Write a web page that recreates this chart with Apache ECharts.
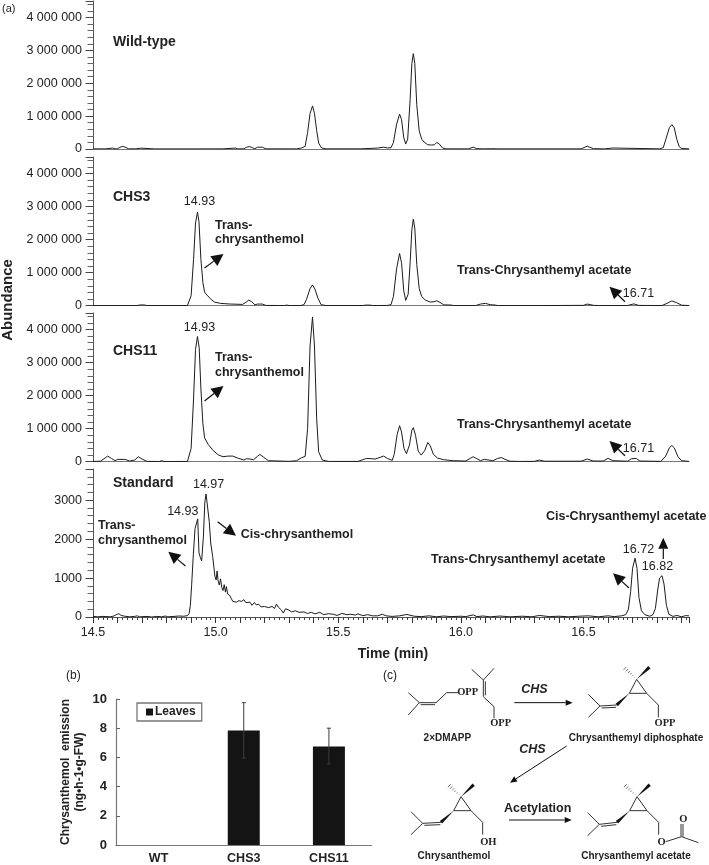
<!DOCTYPE html>
<html><head><meta charset="utf-8">
<style>html,body{margin:0;padding:0;background:#fff}#c{width:709px;height:865px}</style>
<script src="https://cdn.jsdelivr.net/npm/echarts@6/dist/echarts.min.js"></script>
</head><body><div id="c"></div>
<script>
const wildType = [[14.5,4000],[14.55,4000],[14.555,28000],[14.58,28000],[14.59,5000],[14.6,6000],[14.61,50000],[14.62,80000],[14.63,60000],[14.645,6000],[14.675,5000],[14.68,26000],[14.695,26000],[14.7,4000],[14.75,3000],[14.9,3000],[15.03,4000],[15.035,28000],[15.08,28000],[15.09,4000],[15.115,5000],[15.125,50000],[15.137,75000],[15.15,40000],[15.16,8000],[15.17,55000],[15.19,55000],[15.205,5000],[15.33,4000],[15.35,30000],[15.365,80000],[15.375,500000],[15.385,1080000],[15.395,1310000],[15.403,1080000],[15.412,560000],[15.42,180000],[15.432,30000],[15.45,5000],[15.59,5000],[15.595,25000],[15.66,28000],[15.685,55000],[15.7,30000],[15.715,40000],[15.725,200000],[15.738,760000],[15.75,1060000],[15.758,900000],[15.767,350000],[15.775,150000],[15.783,300000],[15.793,1500000],[15.8,2600000],[15.806,2900000],[15.812,2600000],[15.82,1350000],[15.83,550000],[15.84,300000],[15.85,210000],[15.865,130000],[15.88,120000],[15.892,130000],[15.902,200000],[15.912,150000],[15.925,30000],[15.94,5000],[16.03,4000],[16.05,55000],[16.065,10000],[16.09,4000],[16.095,28000],[16.12,8000],[16.15,5000],[16.157,30000],[16.165,4000],[16.49,4000],[16.515,85000],[16.54,10000],[16.585,4000],[16.59,30000],[16.62,30000],[16.625,4000],[16.81,4000],[16.825,40000],[16.835,280000],[16.85,650000],[16.86,740000],[16.87,640000],[16.88,300000],[16.89,70000],[16.9,15000],[16.93,5000]];
const chs3 = [[14.5,4000],[14.68,4000],[14.69,22000],[14.71,22000],[14.72,4000],[14.885,5000],[14.893,30000],[14.9,300000],[14.91,1400000],[14.918,2500000],[14.926,2830000],[14.932,2550000],[14.94,1400000],[14.948,700000],[14.955,410000],[14.965,320000],[14.98,200000],[14.995,110000],[15.02,70000],[15.06,50000],[15.11,40000],[15.125,110000],[15.135,170000],[15.147,120000],[15.16,25000],[15.17,50000],[15.19,50000],[15.205,8000],[15.28,4000],[15.29,18000],[15.3,5000],[15.345,5000],[15.36,30000],[15.37,180000],[15.385,520000],[15.395,630000],[15.405,500000],[15.417,230000],[15.43,30000],[15.45,5000],[15.6,4000],[15.61,18000],[15.63,18000],[15.64,4000],[15.7,8000],[15.715,30000],[15.725,280000],[15.738,1130000],[15.75,1580000],[15.758,1300000],[15.767,450000],[15.775,160000],[15.785,350000],[15.793,1300000],[15.8,2300000],[15.806,2620000],[15.812,2350000],[15.82,1250000],[15.83,520000],[15.84,280000],[15.855,170000],[15.875,110000],[15.89,120000],[15.902,150000],[15.915,100000],[15.93,25000],[15.96,20000],[15.97,4000],[16.06,4000],[16.08,50000],[16.1,70000],[16.12,30000],[16.14,20000],[16.15,4000],[16.33,4000],[16.5,10000],[16.515,50000],[16.54,12000],[16.56,4000],[16.68,6000],[16.705,55000],[16.725,8000],[16.82,5000],[16.84,70000],[16.86,145000],[16.88,90000],[16.9,15000],[16.93,5000]];
const chs11 = [[14.5,8000],[14.53,15000],[14.545,90000],[14.56,170000],[14.575,100000],[14.59,30000],[14.6,70000],[14.63,70000],[14.65,20000],[14.67,50000],[14.685,150000],[14.7,80000],[14.72,10000],[14.77,6000],[14.78,30000],[14.79,6000],[14.885,8000],[14.893,40000],[14.9,400000],[14.91,1900000],[14.918,3400000],[14.926,3790000],[14.933,3450000],[14.94,2200000],[14.948,1150000],[14.955,720000],[14.97,520000],[14.99,340000],[15.01,210000],[15.03,150000],[15.05,170000],[15.07,170000],[15.09,110000],[15.115,50000],[15.125,90000],[15.14,80000],[15.155,60000],[15.17,160000],[15.18,220000],[15.195,140000],[15.215,30000],[15.3,10000],[15.33,30000],[15.35,120000],[15.365,160000],[15.375,1000000],[15.385,3500000],[15.395,4380000],[15.403,3500000],[15.412,1300000],[15.42,300000],[15.435,50000],[15.46,8000],[15.58,8000],[15.6,60000],[15.615,100000],[15.635,90000],[15.65,80000],[15.67,130000],[15.685,170000],[15.7,100000],[15.72,40000],[15.728,220000],[15.74,820000],[15.75,1090000],[15.758,900000],[15.768,400000],[15.778,240000],[15.79,500000],[15.8,950000],[15.806,1030000],[15.815,800000],[15.826,320000],[15.838,200000],[15.852,330000],[15.865,580000],[15.875,480000],[15.888,220000],[15.905,110000],[15.93,60000],[15.97,30000],[16.02,20000],[16.04,110000],[16.05,150000],[16.065,90000],[16.08,30000],[16.095,70000],[16.115,50000],[16.13,30000],[16.15,100000],[16.165,125000],[16.18,70000],[16.2,15000],[16.235,8000],[16.24,30000],[16.25,8000],[16.3,10000],[16.32,50000],[16.34,15000],[16.49,15000],[16.515,80000],[16.54,20000],[16.58,20000],[16.6,100000],[16.62,30000],[16.68,15000],[16.695,90000],[16.715,100000],[16.73,20000],[16.815,10000],[16.835,170000],[16.85,420000],[16.86,490000],[16.87,420000],[16.885,150000],[16.9,30000],[16.93,8000]];
const standard = [[14.5,15],[14.52,5],[14.54,15],[14.57,5],[14.585,25],[14.595,60],[14.605,85],[14.615,40],[14.63,20],[14.65,5],[14.67,15],[14.68,30],[14.69,5],[14.72,15],[14.74,0],[14.76,15],[14.78,5],[14.795,25],[14.805,5],[14.83,15],[14.85,25],[14.87,20],[14.885,35],[14.892,90],[14.897,300],[14.902,800],[14.909,1600],[14.916,2270],[14.921,2310],[14.927,2520],[14.932,1650],[14.938,1520],[14.943,1440],[14.95,2050],[14.956,2950],[14.961,3160],[14.968,3130],[14.974,2450],[14.98,1900],[14.988,1550],[14.997,1050],[15.002,950],[15.006,1180],[15.01,930],[15.015,820],[15.02,980],[15.025,760],[15.03,680],[15.035,830],[15.04,640],[15.044,780],[15.049,590],[15.054,610],[15.058,550],[15.064,470],[15.07,400],[15.078,430],[15.085,380],[15.095,420],[15.105,400],[15.115,445],[15.123,370],[15.13,330],[15.14,380],[15.148,300],[15.158,370],[15.166,310],[15.175,330],[15.185,260],[15.2,270],[15.215,240],[15.23,270],[15.24,220],[15.248,330],[15.256,250],[15.268,180],[15.276,100],[15.285,210],[15.295,190],[15.31,130],[15.325,160],[15.34,120],[15.36,130],[15.375,90],[15.39,120],[15.405,80],[15.425,120],[15.44,60],[15.46,85],[15.48,70],[15.495,40],[15.515,90],[15.535,60],[15.55,70],[15.57,50],[15.58,80],[15.6,35],[15.62,60],[15.64,30],[15.66,30],[15.68,70],[15.695,30],[15.72,15],[15.75,30],[15.78,65],[15.81,20],[15.84,10],[15.87,30],[15.9,5],[15.93,25],[15.96,10],[16.0,20],[16.02,10],[16.05,55],[16.065,10],[16.09,25],[16.12,5],[16.16,25],[16.2,5],[16.25,20],[16.29,5],[16.32,40],[16.36,10],[16.4,20],[16.44,5],[16.48,20],[16.52,30],[16.56,5],[16.6,30],[16.625,10],[16.655,30],[16.672,60],[16.683,200],[16.692,650],[16.7,1250],[16.71,1510],[16.718,1250],[16.726,500],[16.736,160],[16.75,60],[16.77,20],[16.783,60],[16.793,220],[16.803,720],[16.81,1000],[16.82,1060],[16.828,850],[16.838,300],[16.848,70],[16.865,15],[16.88,40],[16.9,5],[16.915,35],[16.93,30]];
const panelNames = ['Wild-type','CHS3','CHS11','Standard'];
const abundanceTicks = [0,1000000,2000000,3000000,4000000];
const standardTicks = [0,1000,2000,3000];
const barCategories = ['WT','CHS3','CHS11'];
const leafEmission = [null,7.85,6.75];
const errorLow = [null,5.95,5.55];
const errorHigh = [null,9.75,8.0];

const FONT='"Liberation Sans", Arial, sans-serif';
const INK='#222';
const chart=echarts.init(document.getElementById('c'),null,{renderer:'canvas'});

// ---- panel (a) axes ----
const layouts=[{top:1,height:148},{top:157,height:148.7},{top:313,height:148.7},{top:469,height:148}];
const grids=layouts.map(l=>({left:93,width:596,top:l.top,height:l.height,containLabel:false}));
grids.push({left:116,top:699,width:255.5,height:146});
const fmtBig=v=>abundanceTicks.includes(v)?String(v).replace(/\B(?=(\d{3})+$)/g,' '):'';
const fmtStd=v=>standardTicks.includes(v)?String(v):'';
const xAxes=layouts.map((l,i)=>({
  type:'value',gridIndex:i,min:14.5,max:16.93,interval:0.1,
  axisLine:{onZero:false,lineStyle:{color:i===3?'#555':'#777',width:1}},
  axisTick:{show:i===3,length:6,lineStyle:{color:'#333'}},
  minorTick:{show:i===3,splitNumber:5,length:3,lineStyle:{color:'#444'}},
  axisLabel:{show:i===3,margin:9,fontFamily:FONT,fontSize:12.5,color:INK,
    formatter:v=>Math.round(v*100)%50===0?v.toFixed(1):'',showMinLabel:true,showMaxLabel:false,hideOverlap:false},
  splitLine:{show:false}
}));
xAxes.push({type:'category',gridIndex:4,data:barCategories,
  axisLine:{lineStyle:{color:'#777',width:1.2}},axisTick:{length:3,inside:true,lineStyle:{color:'#555'}},
  axisLabel:{fontFamily:FONT,fontSize:12.5,fontWeight:'bold',color:INK,margin:7},splitLine:{show:false}});
const yAxes=layouts.map((l,i)=>({
  type:'value',gridIndex:i,min:0,max:i===3?3800:4500000,interval:i===3?1000:1000000,
  axisLine:{show:true,lineStyle:{color:'#555',width:1}},
  axisTick:{show:true,length:7.5,lineStyle:{color:'#444'}},
  minorTick:{show:true,splitNumber:5,length:5.5,lineStyle:{color:'#666'}},
  axisLabel:{margin:11,fontFamily:FONT,fontSize:12.5,color:INK,formatter:i===3?fmtStd:fmtBig,showMaxLabel:false},
  splitLine:{show:false}
}));
yAxes.push({type:'value',gridIndex:4,min:0,max:10,interval:2,
  name:'Chrysanthemol  emission\n(ng•h-1•g-FW)',nameLocation:'middle',nameGap:29,nameRotate:90,
  nameTextStyle:{fontFamily:FONT,fontSize:12,fontWeight:'bold',color:INK,lineHeight:14},
  axisLine:{show:true,lineStyle:{color:'#777',width:1.2}},axisTick:{show:true,length:4,inside:true,lineStyle:{color:'#666'}},
  axisLabel:{margin:9,fontFamily:FONT,fontSize:13,fontWeight:'bold',color:INK},splitLine:{show:false}});

const traces=[wildType,chs3,chs11,standard];
const series=traces.map((d,i)=>({
  type:'line',name:panelNames[i],xAxisIndex:i,yAxisIndex:i,data:d,showSymbol:false,silent:true,
  smooth:false,lineStyle:{color:'#1c1c1c',width:1},z:3
}));
series.push({type:'bar',name:'Leaves',xAxisIndex:4,yAxisIndex:4,data:leafEmission,barWidth:32,
  itemStyle:{color:'#141414'},silent:true});
series.push({type:'custom',name:'error',xAxisIndex:4,yAxisIndex:4,silent:true,z:5,
  data:barCategories.map((c,i)=>[i,errorLow[i],errorHigh[i]]).filter(r=>r[1]!==null),
  encode:{x:0,y:[1,2]},
  renderItem(p,api){
    const lo=api.coord([api.value(0),api.value(1)]),hi=api.coord([api.value(0),api.value(2)]);
    const st={stroke:'#3c3c3c',lineWidth:1};
    return {type:'group',children:[
      {type:'line',shape:{x1:lo[0],y1:lo[1],x2:hi[0],y2:hi[1]},style:st},
      {type:'line',shape:{x1:lo[0]-2,y1:lo[1],x2:lo[0]+2,y2:lo[1]},style:st},
      {type:'line',shape:{x1:hi[0]-2,y1:hi[1],x2:hi[0]+2,y2:hi[1]},style:st}]};
  }});

// ---- annotation helpers ----
const g=[];
function txt(s,x,y,o={}){g.push({type:'text',silent:true,z:10,rotation:o.rot||0,x:o.rot?x:0,y:o.rot?y:0,
  style:{text:s,x:o.rot?0:x,y:o.rot?0:y,fill:o.fill||INK,textAlign:o.align||'left',textVerticalAlign:'middle',
  font:(o.style||'')+' '+(o.bold?'bold ':'')+(o.size||12.5)+'px '+FONT}});}
function seg(x1,y1,x2,y2,w=1,c='#222'){g.push({type:'line',silent:true,z:10,shape:{x1,y1,x2,y2},style:{stroke:c,lineWidth:w}});}
function arrow(x1,y1,x2,y2,hl=12,hw=6,w=1.2){
  const d=Math.hypot(x2-x1,y2-y1),ux=(x2-x1)/d,uy=(y2-y1)/d,bx=x2-ux*hl,by=y2-uy*hl;
  seg(x1,y1,bx,by,w,'#111');
  g.push({type:'polygon',silent:true,z:10,shape:{points:[[x2,y2],[bx-uy*hw,by+ux*hw],[bx+uy*hw,by-ux*hw]]},style:{fill:'#111'}});
}
const B={bold:true};
txt('(a)',2,9,{size:11});
txt('Abundance',8,300,{bold:true,size:15,rot:Math.PI/2,align:'center'});
txt('Time (min)',393,654,{bold:true,size:14,align:'center'});
panelNames.forEach((n,i)=>txt(n,113,[42,197,351,483][i],{bold:true,size:14}));
// CHS3
txt('14.93',199.5,202,{align:'center'});
txt('Trans-',215,226,B);txt('chrysanthemol',215,240,B);
arrow(204.5,268,223.5,254);
txt('Trans-Chrysanthemyl acetate',457,271,B);
arrow(625,301.7,609.5,286.7);
txt('16.71',638.5,294,{align:'center'});
// CHS11
txt('14.93',199.5,327.7,{align:'center'});
txt('Trans-',215,358,B);txt('chrysanthemol',215,372.7,B);
arrow(204.5,401,223.5,386);
txt('Trans-Chrysanthemyl acetate',457,425,B);
arrow(625,455.7,609.5,441);
txt('16.71',638.5,449,{align:'center'});
// Standard
txt('14.97',208.6,485,{align:'center'});
txt('14.93',182.8,511.7,{align:'center'});
txt('Trans-',98,526,B);txt('chrysanthemol',98,540.7,B);
arrow(185.5,566,168.3,551.7);
arrow(217.6,521.7,236,535.7);
txt('Cis-chrysanthemol',240.7,535,B);
txt('Cis-Chrysanthemyl acetate',546,516.7,B);
arrow(663.3,559,663.3,537.7,11,5);
txt('16.72',638.5,550,{align:'center'});
txt('16.82',657.5,566.7,{align:'center'});
txt('Trans-Chrysanthemyl acetate',431,560,B);
arrow(629,588,613,573.3);
txt('(b)',66,676,{size:12});
txt('(c)',383,676,{size:12});

// ---- panel (c) scheme, laid out in a local frame ----
const zx=x=>370+x/3, zy=y=>660+y/3;
function L(a,b,c,d,w=1){seg(zx(a),zy(b),zx(c),zy(d),w,'#333');}
function wedge(a,b,c,d){const dx=c-a,dy=d-b,n=Math.hypot(dx,dy),px=-dy/n*5,py=dx/n*5;
  g.push({type:'polygon',silent:true,z:10,shape:{points:[[zx(a),zy(b)],[zx(c+px),zy(d+py)],[zx(c-px),zy(d-py)]]},style:{fill:'#111'}});}
function hash(a,b,c,d){const dx=c-a,dy=d-b,n=Math.hypot(dx,dy);
  for(let k=1;k<=6;k++){const f=k/6,cx=a+dx*f,cy=b+dy*f,h=f*6;L(cx-dy/n*h,cy+dx/n*h,cx+dy/n*h,cy-dx/n*h,0.7);}}
function T(s,x,y,o){txt(s,zx(x),zy(y),Object.assign({align:'center'},o));}
const SERIF='"Liberation Serif", serif';
function serifT(s,x,y){g.push({type:'text',silent:true,z:10,style:{text:s,x:zx(x),y:zy(y),fill:'#222',textAlign:'center',textVerticalAlign:'middle',font:'bold 10.5px '+SERIF}});}
// DMAPP
L(115,98,148,128);L(115,165,148,128);L(148,128,198,128);L(152,134,195,134);L(198,128,230,98);L(230,98,265,98);serifT('OPP',293,98);
L(305,28,340,60);L(372,25,340,60);L(340,60,340,110);L(346,64,346,106);L(340,110,372,140);L(372,140,372,175);serifT('OPP',392,190);
T('2×DMAPP',232,236,{bold:true,size:10});
arrow(zx(433),zy(128),zx(608),zy(128),7,3,1);
T('CHS',493,88,{bold:true,style:'italic',size:12.5});
// common skeleton
function skeleton(dx,dy,ax,ay){
  hash(800+dx,58+dy,765+dx,25+dy);wedge(800+dx,58+dy,838+dx,22+dy);
  L(800+dx,58+dy,778+dx,100+dy);L(800+dx,58+dy,830+dx,100+dy);L(778+dx,100+dy,830+dx,100+dy);
  wedge(778+dx,100+dy,740+dx,135+dy);
  L(740+dx,135+dy,690+dx+ax,138+dy+ay);L(738+dx,142+dy,695+dx+ax,144+dy+ay);
  L(690+dx+ax,138+dy+ay,655+dx+ax,103+dy+ay);L(690+dx+ax,138+dy+ay,655+dx+ax,172+dy+ay);
  L(830+dx,100+dy,865+dx,135+dy);L(865+dx,135+dy,865+dx,172+dy);
}
skeleton(0,0,0,0);serifT('OPP',885,190);
T('Chrysanthemyl diphosphate',798,236,{bold:true,size:10});
T('CHS',487,268,{bold:true,style:'italic',size:12.5});
arrow(zx(590),zy(258),zx(420),zy(368),7,3,1);
skeleton(-527,352,-5,0);serifT('OH',355,548);
T('Chrysanthemol',252,590,{bold:true,size:10});
T('Acetylation',503,447,{bold:true,size:12.5});
arrow(zx(417),zy(480),zx(605),zy(480),7,3,1);
skeleton(1,352,-3,3);serifT('O',875,548);
L(887,545,935,530);L(935,530,985,548);L(933,530,933,492);L(939,530,939,492);serifT('O',940,478);
T('Chrysanthemyl acetate',798,590,{bold:true,size:10});

chart.setOption({
  animation:false,backgroundColor:'#fff',
  grid:grids,xAxis:xAxes,yAxis:yAxes,series,
  legend:{show:true,data:[{name:'Leaves',icon:'rect'}],left:137,top:703,itemWidth:7,itemHeight:7,itemGap:0,
    padding:[3,6,3,9],borderColor:'#777',borderWidth:1.3,selectedMode:false,
    textStyle:{fontFamily:FONT,fontSize:12,fontWeight:'bold',color:INK,padding:[1,0,0,-3]}},
  graphic:{elements:g}
});
</script></body></html>
